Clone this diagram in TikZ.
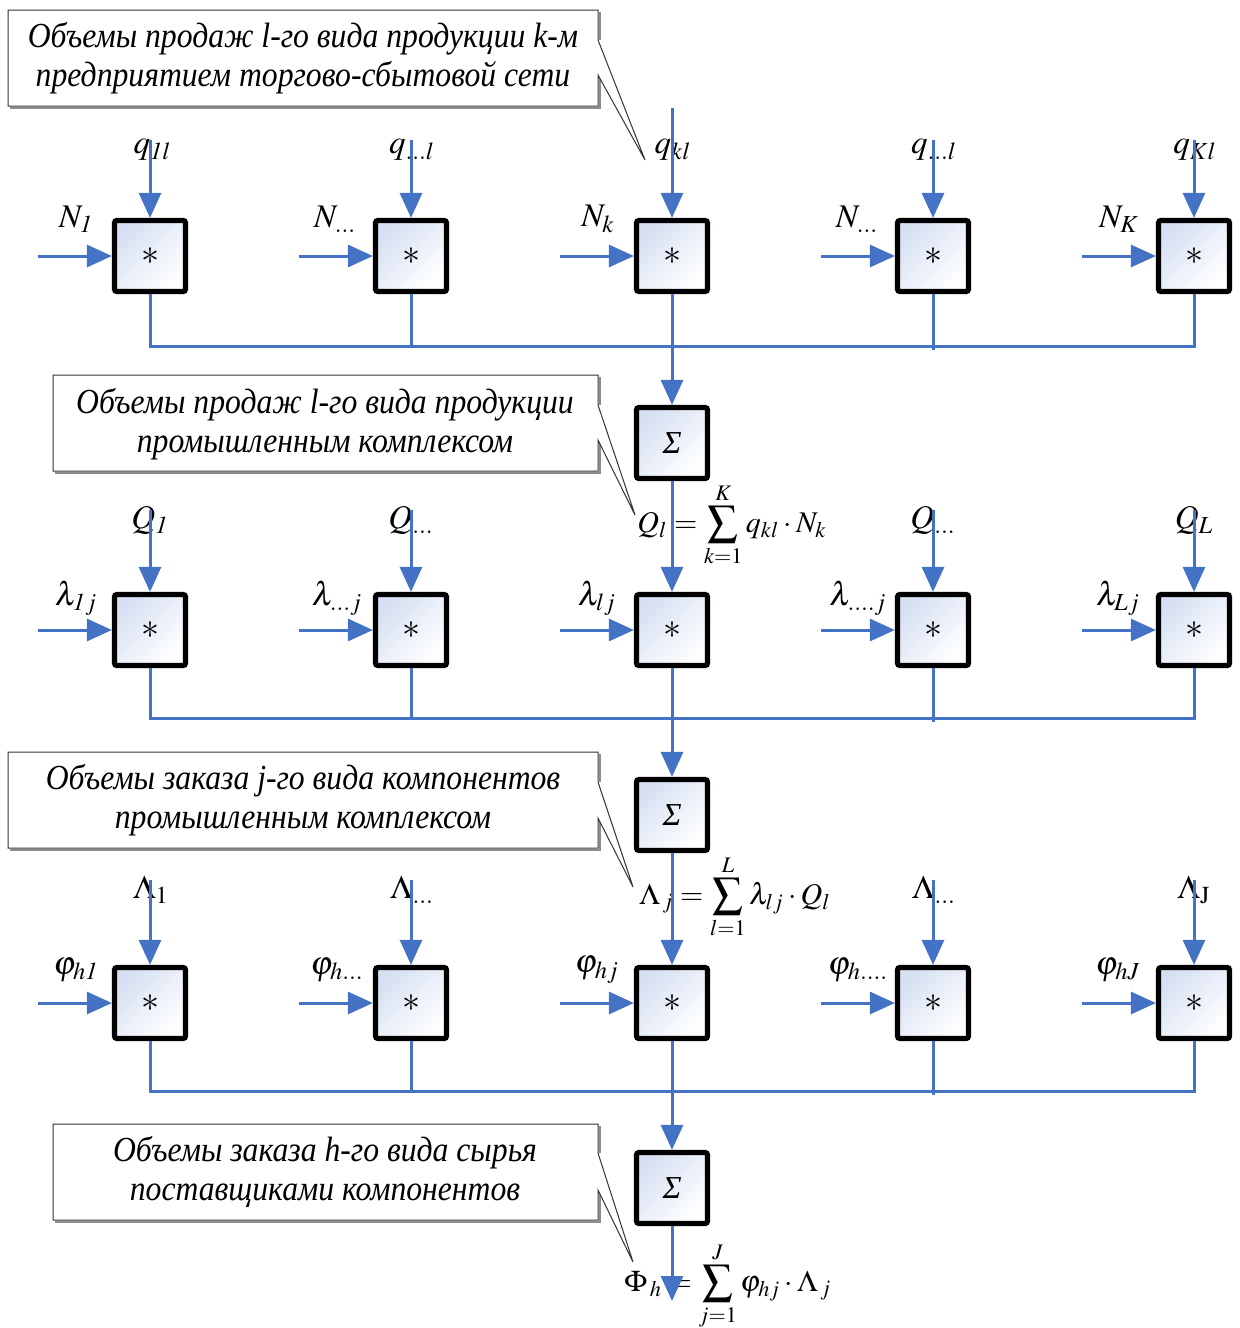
\documentclass[tikz,border=0pt]{standalone}
\usepackage{mathptmx}
\usepackage[no-math]{fontspec}
\setmainfont{Liberation Serif}
\newfontfamily\calloutfont[FakeStretch=0.9]{Liberation Serif}
\usetikzlibrary{arrows.meta}
\definecolor{wireblue}{HTML}{4472C4}
\definecolor{boxblue}{HTML}{D6E0F2}
\begin{document}
\begin{tikzpicture}[x=0.5pt,y=-0.5pt,
  mul/.style={draw=black, line width=2.6pt, rounded corners=1.2pt, minimum size=35.5pt, inner sep=0pt,
     top color=boxblue, bottom color=white, shading angle=45, font=\fontsize{18}{19}\selectfont},
  wire/.style={draw=wireblue, line width=1.5pt},
  arr/.style={wire, -{Triangle[length=12.5pt,width=11pt]}},
  lbl/.style={inner sep=0pt, font=\fontsize{16.5}{19}\selectfont},
  fml/.style={inner sep=0pt, font=\fontsize{15}{18}\selectfont},
  callout/.style={draw=black!80, line width=0.5pt, fill=white},
  cshadow/.style={draw=black!45, line width=1pt},
  ctext/.style={align=center, inner sep=0pt, font=\fontsize{17.6}{19.5}\selectfont\calloutfont\itshape}]
\useasboundingbox (0,0) rectangle (1240,1328);

% ---------- callouts ----------
\draw[cshadow] (600,12) -- (600,40) (600,75) -- (600,108) -- (10,108);
\draw[callout] (8,10) -- (598,10) -- (598,40) -- (645,160) -- (598,75) -- (598,106) -- (8,106) -- cycle;
\node[ctext] (c1) at (303,58) {Объемы продаж l-го вида продукции k-м\\предприятием торгово-сбытовой сети};

\draw[cshadow] (600,377) -- (600,405) (600,440) -- (600,473) -- (55,473);
\draw[callout] (53,375) -- (598,375) -- (598,405) -- (635,515) -- (598,440) -- (598,471) -- (53,471) -- cycle;
\node[ctext] (c2) at (325,424) {Объемы продаж l-го вида продукции\\промышленным комплексом};

\draw[cshadow] (600,754) -- (600,782) (600,818) -- (600,850) -- (10,850);
\draw[callout] (8,752) -- (598,752) -- (598,782) -- (633,887) -- (598,818) -- (598,848) -- (8,848) -- cycle;
\node[ctext] (c3) at (303,800) {Объемы заказа j-го вида компонентов\\промышленным комплексом};

\draw[cshadow] (600,1126) -- (600,1153) (600,1190) -- (600,1222) -- (55,1222);
\draw[callout] (53,1124) -- (598,1124) -- (598,1153) -- (633,1262) -- (598,1190) -- (598,1220) -- (53,1220) -- cycle;
\node[ctext] (c4) at (325,1172) {Объемы заказа h-го вида сырья\\поставщиками компонентов};

% ---------- labels ----------
\node[lbl] (lq1) at (152,150) {$q_{\mathit{1l}}$};
\node[lbl] (lq2) at (412,150) {$q_{\ldots l}$};
\node[lbl] (lq3) at (673,150) {$q_{kl}$};
\node[lbl] (lq4) at (934,150) {$q_{\ldots l}$};
\node[lbl] (lq5) at (1195,150) {$q_{Kl}$};

\node[lbl] (ln1) at (76,219) {$N_{\mathit{1}}$};
\node[lbl] (ln2) at (335,219) {$N_{\ldots}$};
\node[lbl] (ln3) at (598,219) {$N_{k}$};
\node[lbl] (ln4) at (857,219) {$N_{\ldots}$};
\node[lbl] (ln5) at (1119,219) {$N_{K}$};

\node[lbl] (lQ1) at (150,520) {$Q_{\mathit{1}}$};
\node[lbl] (lQ2) at (411,520) {$Q_{\ldots}$};
\node[lbl] (lQ4) at (933,520) {$Q_{\ldots}$};
\node[lbl] (lQ5) at (1194,520) {$Q_{L}$};

\node[lbl] (ll1) at (76,598) {$\lambda_{\mathit{1}j}$};
\node[lbl] (ll2) at (337,598) {$\lambda_{\ldots j}$};
\node[lbl] (ll3) at (597,598) {$\lambda_{lj}$};
\node[lbl] (ll4) at (858,598) {$\lambda_{\ldots . j}$};
\node[lbl] (ll5) at (1118,598) {$\lambda_{Lj}$};

\node[lbl] (lL1) at (151,890) {$\Lambda_{1}$};
\node[lbl] (lL2) at (412,890) {$\Lambda_{\ldots}$};
\node[lbl] (lL4) at (934,890) {$\Lambda_{\ldots}$};
\node[lbl] (lL5) at (1194,890) {$\Lambda_{\mathrm{J}}$};

\node[lbl] (lp1) at (76,970) {$\varphi_{h\mathit{1}}$};
\node[lbl] (lp2) at (337,970) {$\varphi_{h\ldots}$};
\node[lbl] (lp3) at (597,970) {$\varphi_{hj}$};
\node[lbl] (lp4) at (858,970) {$\varphi_{h\ldots .}$};
\node[lbl] (lp5) at (1118,970) {$\varphi_{hJ}$};

% ---------- formulas ----------
\node[fml, anchor=west] (f1) at (637,525) {$\displaystyle Q_{l}=\sum_{k=1}^{K} q_{kl}\cdot N_{k}$};
\node[fml, anchor=west] (f2) at (639,897) {$\displaystyle \Lambda_{\,j}=\sum_{l=1}^{L} \lambda_{lj}\cdot Q_{l}$};
\node[fml, anchor=west] (f3) at (624,1286) {$\displaystyle \Phi_{\,h}=\sum_{j=1}^{J} \varphi_{hj}\cdot \Lambda_{\,j}$};

% ---------- blocks ----------
\foreach \i/\x in {1/150,2/411,3/672,4/933,5/1194}{
  \node[mul] (a\i) at (\x,256) {$\ast$};
  \node[mul] (b\i) at (\x,630) {$\ast$};
  \node[mul] (c\i) at (\x,1003) {$\ast$};
  \coordinate (ia\i) at (\x-112,256);
  \coordinate (ib\i) at (\x-112,630);
  \coordinate (ic\i) at (\x-112,1003);
  \coordinate (tb\i) at (\x,510);
  \coordinate (tc\i) at (\x,880);
}
\foreach \i/\x in {1/150,2/411,4/933,5/1194}{
  \coordinate (ta\i) at (\x,140);
}
\coordinate (ta3) at (672,108);
\node[mul, font=\fontsize{16}{19}\selectfont\itshape] (s1) at (672,443) {Σ};
\node[mul, font=\fontsize{16}{19}\selectfont\itshape] (s2) at (672,815) {Σ};
\node[mul, font=\fontsize{16}{19}\selectfont\itshape] (s3) at (672,1188) {Σ};
\coordinate (busA) at (0,346);
\coordinate (busB) at (0,718);
\coordinate (busC) at (0,1091);
\coordinate (out) at (672,1301);

% ---------- wires ----------
\foreach \i in {1,...,5}{
  \draw[arr] (ia\i) -- (a\i.west);
  \draw[arr] (ib\i) -- (b\i.west);
  \draw[arr] (ic\i) -- (c\i.west);
  \draw[arr] (ta\i) -- (a\i.north);
}
\foreach \i in {1,2,4,5}{
  \draw[arr] (tb\i) -- (b\i.north);
  \draw[arr] (tc\i) -- (c\i.north);
}
% buses
\draw[wire] (a1.south) -- (a1.south|-busA) -- (a5.south|-busA) -- (a5.south);
\draw[wire] (a2.south) -- (a2.south|-busA);
\draw[wire] (a4.south) -- ([yshift=-2pt]a4.south|-busA);
\draw[arr] (a3.south) -- (s1.north);
\draw[arr] (s1.south) -- (b3.north);

\draw[wire] (b1.south) -- (b1.south|-busB) -- (b5.south|-busB) -- (b5.south);
\draw[wire] (b2.south) -- (b2.south|-busB);
\draw[wire] (b4.south) -- ([yshift=-2pt]b4.south|-busB);
\draw[arr] (b3.south) -- (s2.north);
\draw[arr] (s2.south) -- (c3.north);

\draw[wire] (c1.south) -- (c1.south|-busC) -- (c5.south|-busC) -- (c5.south);
\draw[wire] (c2.south) -- (c2.south|-busC);
\draw[wire] (c4.south) -- ([yshift=-2pt]c4.south|-busC);
\draw[arr] (c3.south) -- (s3.north);
\draw[arr] (s3.south) -- (out);
\end{tikzpicture}
\end{document}
